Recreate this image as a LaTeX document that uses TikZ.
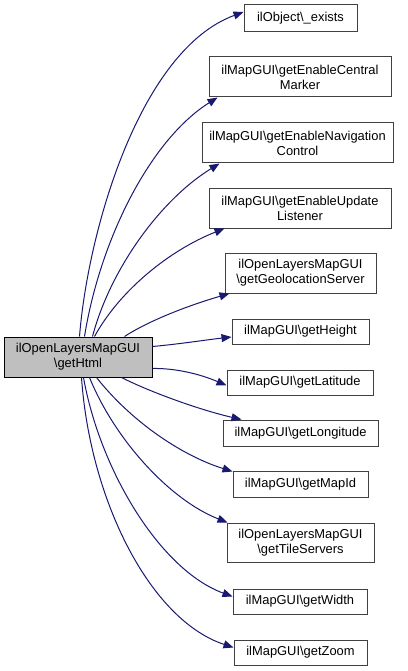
\documentclass[tikz,border=0pt]{standalone}
\usepackage{fontspec}
\setmainfont{Liberation Sans}
\usetikzlibrary{arrows.meta}
\definecolor{edgeblue}{HTML}{191970}
\definecolor{boxline}{HTML}{404040}
\begin{document}
\begin{tikzpicture}[x=1pt,y=-1pt,
  box/.style={draw=boxline,line width=1pt,fill=white,rectangle,inner sep=0pt,align=center,
    font=\fontsize{12.9}{15}\selectfont},
  mainbox/.style={box,fill=black!25,draw=black},
  edge/.style={draw=edgeblue,line width=1pt,-{Triangle[length=10pt,width=8pt]}}]
\useasboundingbox (0,0) rectangle (407,671);
\node[mainbox,minimum width=148pt,minimum height=40pt] (main) at (78,357) {ilOpenLayersMapGUI\\\textbackslash getHtml};
\node[box,minimum width=113pt,minimum height=27pt] (n1) at (300.5,18.5) {ilObject\textbackslash\_exists};
\node[box,minimum width=182pt,minimum height=40pt] (n2) at (300,77) {ilMapGUI\textbackslash getEnableCentral\\Marker};
\node[box,minimum width=191pt,minimum height=40pt] (n3) at (297.5,143) {ilMapGUI\textbackslash getEnableNavigation\\Control};
\node[box,minimum width=182pt,minimum height=40pt] (n4) at (300,208) {ilMapGUI\textbackslash getEnableUpdate\\Listener};
\node[box,minimum width=151pt,minimum height=40pt] (n5) at (300.5,273) {ilOpenLayersMapGUI\\\textbackslash getGeolocationServer};
\node[box,minimum width=137pt,minimum height=25pt] (n6) at (300.5,331.5) {ilMapGUI\textbackslash getHeight};
\node[box,minimum width=146pt,minimum height=25pt] (n7) at (300,382.5) {ilMapGUI\textbackslash getLatitude};
\node[box,minimum width=155pt,minimum height=26pt] (n8) at (300.5,433) {ilMapGUI\textbackslash getLongitude};
\node[box,minimum width=135pt,minimum height=26pt] (n9) at (300.5,484) {ilMapGUI\textbackslash getMapId};
\node[box,minimum width=147pt,minimum height=39pt] (n10) at (300.5,542.5) {ilOpenLayersMapGUI\\\textbackslash getTileServers};
\node[box,minimum width=134pt,minimum height=25pt] (n11) at (300,601.5) {ilMapGUI\textbackslash getWidth};
\node[box,minimum width=133pt,minimum height=25pt] (n12) at (300.5,652.5) {ilMapGUI\textbackslash getZoom};
% top connectors
\draw[edge] ([xshift=76pt]main.north west) .. controls (88,230) and (140,50) .. ([yshift=6.5pt]n1.west);
\draw[edge] ([xshift=81pt]main.north west) .. controls (100,240) and (150,140) .. ([xshift=9pt]n2.south west);
\draw[edge] ([xshift=89pt]main.north west) .. controls (110,270) and (160,200) .. ([xshift=18pt]n3.south west);
\draw[edge] ([xshift=91pt]main.north west) .. controls (120,290) and (170,250) .. ([xshift=16pt]n4.south west);
\draw[edge] ([xshift=121pt]main.north west) .. controls (150,320) and (190,305) .. ([xshift=5pt]n5.south west);
% side connectors
\draw[edge] ([yshift=-10pt]main.north east) .. controls (180,344) and (205,340) .. ([yshift=-5.5pt]n6.west);
\draw[edge] ([yshift=9pt]main.south east) .. controls (175,368) and (200,374) .. ([yshift=-3pt]n7.west);
% bottom connectors
\draw[edge] ([xshift=118pt]main.south west) .. controls (150,392) and (200,410) .. ([xshift=19pt]n8.north west);
\draw[edge] ([xshift=93pt]main.south west) .. controls (130,420) and (180,455) .. ([yshift=-1pt]n9.north west);
\draw[edge] ([xshift=86pt]main.south west) .. controls (115,440) and (170,500) .. ([xshift=1pt]n10.north west);
\draw[edge] ([xshift=80pt]main.south west) .. controls (100,470) and (160,570) .. ([yshift=-8pt]n11.north west);
\draw[edge] ([xshift=78pt]main.south west) .. controls (90,500) and (150,620) .. ([yshift=-8pt]n12.north west);
\end{tikzpicture}
\end{document}
